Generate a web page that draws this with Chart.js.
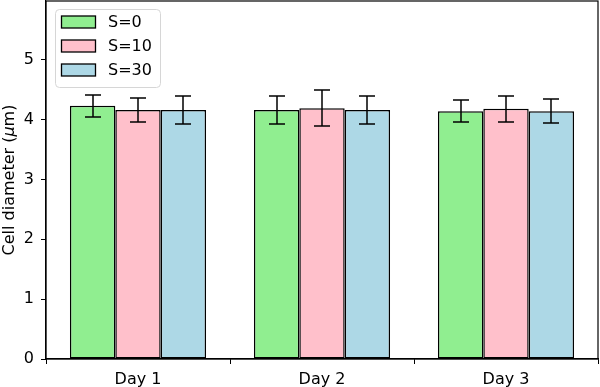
<!DOCTYPE html>
<html>
<head>
<meta charset="utf-8">
<script src="https://cdn.jsdelivr.net/npm/chart.js@4.4.0/dist/chart.umd.min.js"></script>
<style>
  html, body { margin: 0; padding: 0; background: #fff; }
  #wrap { width: 600px; height: 387px; }
</style>
</head>
<body>
<div id="wrap"><canvas id="c" width="600" height="387"></canvas></div>
<script>
const categories = ['Day 1', 'Day 2', 'Day 3'];
const seriesLabels = ['S=0', 'S=10', 'S=30'];
const s0 = [4.23, 4.16, 4.14];
const s10 = [4.16, 4.19, 4.18];
const s30 = [4.16, 4.16, 4.14];
const s0Err = [0.18, 0.24, 0.18];
const s10Err = [0.20, 0.30, 0.22];
const s30Err = [0.24, 0.24, 0.20];
const yTicks = [0, 1, 2, 3, 4, 5];
const yMax = 5.98;
const yTitleParts = [['Cell diameter (', false], ['μ', true], ['m)', false]];

const colors = ['#90EE90', '#FFC0CB', '#ADD8E6'];
const values = [s0, s10, s30];
const errs = [s0Err, s10Err, s30Err];

const FONT = 'DejaVu Sans';
const FS = 16;

const errorBars = {
  id: 'errorBars',
  afterDatasetsDraw(chart) {
    const ctx = chart.ctx;
    const y = chart.scales.y;
    ctx.save();
    ctx.strokeStyle = '#000';
    ctx.lineWidth = 1.5;
    chart.data.datasets.forEach((ds, di) => {
      const meta = chart.getDatasetMeta(di);
      meta.data.forEach((bar, i) => {
        const v = ds.data[i], e = ds.err[i];
        const yt = Math.round(y.getPixelForValue(v + e));
        const yb = Math.round(y.getPixelForValue(v - e));
        const x = Math.round(bar.x);
        const cap = 8;
        ctx.beginPath();
        ctx.moveTo(x, yt); ctx.lineTo(x, yb);
        ctx.moveTo(x - cap, yt); ctx.lineTo(x + cap, yt);
        ctx.moveTo(x - cap, yb); ctx.lineTo(x + cap, yb);
        ctx.stroke();
      });
    });
    ctx.restore();
  }
};

const boxLegend = {
  id: 'boxLegend',
  afterDraw(chart) {
    const a = chart.chartArea;
    const ctx = chart.ctx;
    ctx.save();
    // axes frame
    ctx.strokeStyle = '#000';
    ctx.lineWidth = 1.2;
    ctx.strokeRect(a.left, a.top, a.right - a.left, a.bottom - a.top);
    // y title with italic mu
    const normal = FS + 'px "' + FONT + '"';
    const italic = 'italic ' + FS + 'px "' + FONT + '"';
    let total = 0;
    yTitleParts.forEach(([t, it]) => { ctx.font = it ? italic : normal; total += ctx.measureText(t).width; });
    ctx.translate(10, (a.top + a.bottom) / 2);
    ctx.rotate(-Math.PI / 2);
    ctx.textBaseline = 'middle';
    ctx.textAlign = 'left';
    ctx.fillStyle = '#000';
    let xx = -total / 2;
    yTitleParts.forEach(([t, it]) => {
      ctx.font = it ? italic : normal;
      ctx.fillText(t, xx, 0);
      xx += ctx.measureText(t).width;
    });
    ctx.setTransform(1, 0, 0, 1, 0, 0);
    // legend frame
    const fx = a.left + 9.5, fy = a.top + 8.5, fw = 105, fh = 78;
    ctx.fillStyle = 'rgba(255,255,255,0.8)';
    ctx.strokeStyle = '#d6d6d6';
    ctx.lineWidth = 1;
    ctx.beginPath();
    ctx.roundRect(fx, fy, fw, fh, 4);
    ctx.fill();
    ctx.stroke();
    // entries
    ctx.font = normal;
    ctx.textBaseline = 'middle';
    ctx.textAlign = 'left';
    chart.data.datasets.forEach((ds, i) => {
      const cy = a.top + 21 + i * 24;
      const px = a.left + 15.5;
      ctx.fillStyle = ds.backgroundColor;
      ctx.fillRect(px, cy - 6, 34, 12);
      ctx.strokeStyle = '#000';
      ctx.lineWidth = 1.3;
      ctx.strokeRect(px, cy - 6, 34, 12);
      ctx.fillStyle = '#000';
      ctx.fillText(ds.label, a.left + 62, cy + 1);
    });
    ctx.restore();
  }
};

new Chart(document.getElementById('c'), {
  type: 'bar',
  data: {
    labels: categories,
    datasets: values.map((vals, i) => ({
      label: seriesLabels[i],
      data: vals,
      err: errs[i],
      backgroundColor: colors[i],
      borderColor: '#000',
      borderWidth: 1.5,
      borderSkipped: false,
      categoryPercentage: 0.74,
      barPercentage: 1.0
    }))
  },
  plugins: [errorBars, boxLegend],
  options: {
    responsive: false,
    animation: false,
    devicePixelRatio: 1,
    layout: { padding: { left: 0, top: 1, right: 2, bottom: 0 } },
    plugins: {
      tooltip: { enabled: false },
      legend: { display: false }
    },
    scales: {
      x: {
        type: 'category',
        grid: { display: true, drawOnChartArea: false, drawTicks: true, tickLength: 5, color: '#000', lineWidth: 1 },
        border: { display: true, color: '#000', width: 1.2 },
        ticks: { font: { family: FONT, size: FS }, color: '#000', padding: 6 },
        afterFit(s) { s.height = 28; s.paddingLeft = 0; s.paddingRight = 0; }
      },
      y: {
        min: 0,
        max: yMax,
        grid: { display: true, drawOnChartArea: false, drawTicks: true, tickLength: 5, color: '#000', lineWidth: 1 },
        border: { display: true, color: '#000', width: 1.2 },
        ticks: { font: { family: FONT, size: FS }, color: '#000', padding: 7 },
        afterBuildTicks(s) { s.ticks = yTicks.map(v => ({ value: v })); },
        title: { display: false },
        afterFit(s) { s.width = 46; s.paddingTop = 0; s.paddingBottom = 0; }
      }
    }
  }
});
</script>
</body>
</html>
